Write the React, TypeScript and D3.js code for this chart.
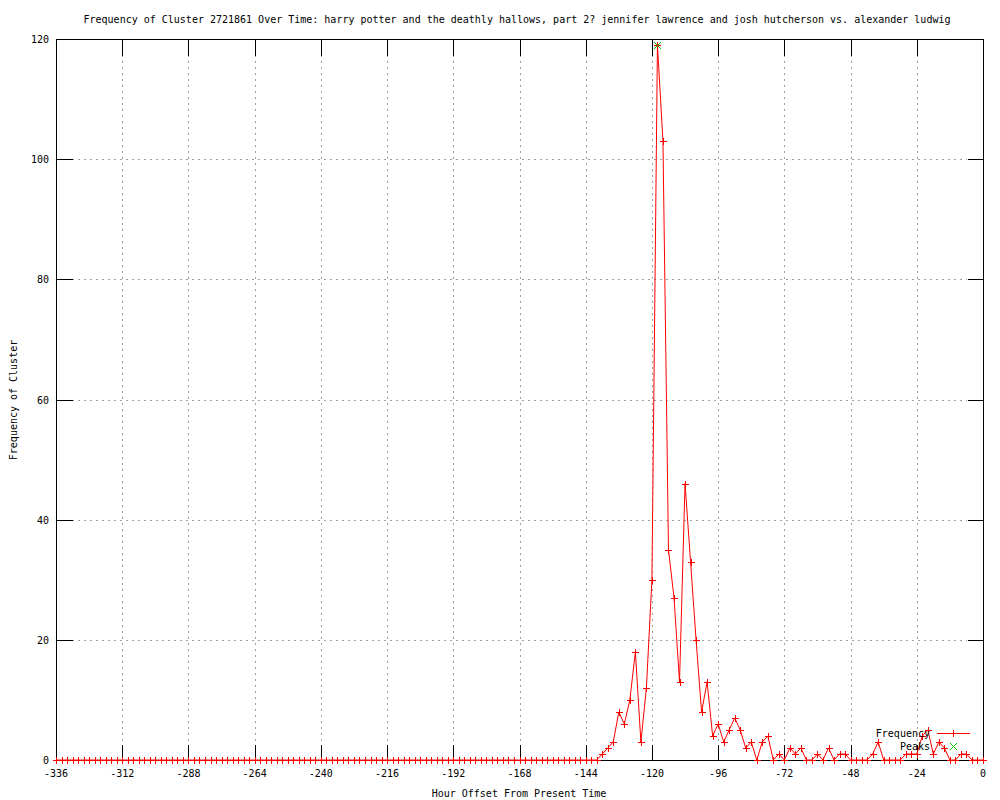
import React, { useEffect, useRef } from 'react'
import { select, scaleLinear, range, line } from 'd3'

// hours from -336 to 0, one point every 2 hours
const hours = range(-336, 1, 2)

// frequency values (98 leading zeros: -336 .. -142)
const leadingZeros = [
  0, 0, 0, 0, 0, 0, 0, 0, 0, 0, 0, 0, 0, 0, 0, 0, 0, 0, 0, 0,
  0, 0, 0, 0, 0, 0, 0, 0, 0, 0, 0, 0, 0, 0, 0, 0, 0, 0, 0, 0,
  0, 0, 0, 0, 0, 0, 0, 0, 0, 0, 0, 0, 0, 0, 0, 0, 0, 0, 0, 0,
  0, 0, 0, 0, 0, 0, 0, 0, 0, 0, 0, 0, 0, 0, 0, 0, 0, 0, 0, 0,
  0, 0, 0, 0, 0, 0, 0, 0, 0, 0, 0, 0, 0, 0, 0, 0, 0, 0,
]
// -140 .. 0
const activeValues = [
  0, 1, 2, 3, 8, 6, 10, 18, 3, 12, 30, 119, 103, 35, 27, 13, 46, 33, 20, 8,
  13, 4, 6, 3, 5, 7, 5, 2, 3, 0, 3, 4, 0, 1, 0, 2, 1, 2, 0, 0,
  1, 0, 2, 0, 1, 1, 0, 0, 0, 0, 1, 3, 0, 0, 0, 0, 1, 1, 1, 4,
  5, 1, 3, 2, 0, 0, 1, 1, 0, 0, 0,
]
const frequency = leadingZeros.concat(activeValues)

const peakHours = [-118]
const peakValues = [119]

const xTicks = [-336, -312, -288, -264, -240, -216, -192, -168, -144, -120, -96, -72, -48, -24, 0]
const yTicks = [0, 20, 40, 60, 80, 100, 120]

const title = 'Frequency of Cluster 2721861 Over Time: harry potter and the deathly hallows, part 2? jennifer lawrence and josh hutcherson vs. alexander ludwig'
const xLabel = 'Hour Offset From Present Time'
const yLabel = 'Frequency of Cluster'

const RED = '#ff0000'
const GREEN = '#00c000'

function FrequencyChart() {
  const contRef = useRef(null)

  const width = 1000, height = 800
  const left = 56, right = 983, top = 39, bottom = 760
  const font = '"DejaVu Sans Mono", "Liberation Mono", monospace'

  useEffect(() => {
    const root = select(contRef.current)
    root.selectAll('*').remove()

    const svg = root.append('svg')
      .attr('width', width)
      .attr('height', height)
      .style('position', 'absolute')
      .style('left', 0)
      .style('top', 0)
      .style('background', '#fff')

    const x = scaleLinear().domain([-336, 0]).range([left, right])
    const y = scaleLinear().domain([0, 120]).range([bottom, top])
    const px = (v) => Math.round(x(v)) + 0.5
    const py = (v) => Math.round(y(v)) + 0.5

    const tickLen = 16

    // grid lines
    const grid = svg.append('g')
      .attr('stroke', '#a0a0a0')
      .attr('stroke-dasharray', '2,4')
      .attr('shape-rendering', 'crispEdges')
    grid.selectAll('line.gx')
      .data(xTicks.slice(1, -1))
      .join('line')
      .attr('class', 'gx')
      .attr('x1', d => px(d)).attr('x2', d => px(d))
      .attr('y1', top + tickLen).attr('y2', bottom - tickLen)
    grid.selectAll('line.gy')
      .data(yTicks.slice(1, -1))
      .join('line')
      .attr('class', 'gy')
      .attr('x1', left + tickLen).attr('x2', right - tickLen)
      .attr('y1', d => py(d)).attr('y2', d => py(d))

    // ticks (mirrored on all sides)
    const ticks = svg.append('g')
      .attr('stroke', '#000')
      .attr('shape-rendering', 'crispEdges')
    xTicks.forEach(t => {
      ticks.append('line').attr('x1', px(t)).attr('x2', px(t)).attr('y1', py(0)).attr('y2', py(0) - tickLen)
      ticks.append('line').attr('x1', px(t)).attr('x2', px(t)).attr('y1', py(120)).attr('y2', py(120) + tickLen)
    })
    yTicks.forEach(t => {
      ticks.append('line').attr('x1', px(-336)).attr('x2', px(-336) + tickLen).attr('y1', py(t)).attr('y2', py(t))
      ticks.append('line').attr('x1', px(0)).attr('x2', px(0) - tickLen).attr('y1', py(t)).attr('y2', py(t))
    })

    // frame
    svg.append('rect')
      .attr('x', px(-336)).attr('y', py(120))
      .attr('width', px(0) - px(-336)).attr('height', py(0) - py(120))
      .attr('fill', 'none').attr('stroke', '#000')
      .attr('shape-rendering', 'crispEdges')

    // tick labels
    svg.append('g')
      .selectAll('text')
      .data(xTicks)
      .join('text')
      .attr('x', d => x(d))
      .attr('y', bottom + 17)
      .attr('text-anchor', 'middle')
      .style('font-family', font).style('font-size', '10px')
      .text(d => d)
    svg.append('g')
      .selectAll('text')
      .data(yTicks)
      .join('text')
      .attr('x', 49)
      .attr('y', d => y(d) + 4)
      .attr('text-anchor', 'end')
      .style('font-family', font).style('font-size', '10px')
      .text(d => d)

    // titles
    svg.append('text')
      .attr('x', 517).attr('y', 23)
      .attr('text-anchor', 'middle')
      .style('font-family', font).style('font-size', '10px')
      .text(title)
    svg.append('text')
      .attr('x', 519).attr('y', 797)
      .attr('text-anchor', 'middle')
      .style('font-family', font).style('font-size', '10px')
      .text(xLabel)
    svg.append('text')
      .attr('transform', `translate(17, 400) rotate(-90)`)
      .attr('text-anchor', 'middle')
      .style('font-family', font).style('font-size', '10px')
      .text(yLabel)

    // frequency line
    const points = hours.map((h, i) => ({ h, v: frequency[i] }))
    const path = line().x(d => x(d.h)).y(d => y(d.v))
    svg.append('path')
      .datum(points)
      .attr('d', path)
      .style('fill', 'none')
      .style('stroke', RED)
      .style('stroke-width', 1)

    const m = 3.5
    const plus = (cx, cy) => `M${cx - m},${cy}H${cx + m}M${cx},${cy - m}V${cy + m}`
    const cross = (cx, cy) => `M${cx - m},${cy - m}L${cx + m},${cy + m}M${cx - m},${cy + m}L${cx + m},${cy - m}`

    svg.append('g')
      .selectAll('path')
      .data(points)
      .join('path')
      .attr('d', d => plus(Math.round(x(d.h)) + 0.5, Math.round(y(d.v)) + 0.5))
      .style('stroke', RED)
      .style('fill', 'none')

    // peaks
    svg.append('g')
      .selectAll('path')
      .data(peakHours.map((h, i) => ({ h, v: peakValues[i] })))
      .join('path')
      .attr('d', d => cross(Math.round(x(d.h)) + 0.5, Math.round(y(d.v)) + 0.5))
      .style('stroke', GREEN)
      .style('fill', 'none')

    // legend
    const lg = svg.append('g')
    lg.append('text')
      .attr('x', 930).attr('y', 737)
      .attr('text-anchor', 'end')
      .style('font-family', font).style('font-size', '10px')
      .text('Frequency')
    lg.append('path')
      .attr('d', `M937,733.5H970`)
      .style('stroke', RED)
      .style('fill', 'none')
    lg.append('path')
      .attr('d', plus(953.5, 733.5))
      .style('stroke', RED)
      .style('fill', 'none')
    lg.append('text')
      .attr('x', 930).attr('y', 750)
      .attr('text-anchor', 'end')
      .style('font-family', font).style('font-size', '10px')
      .text('Peaks')
    lg.append('path')
      .attr('d', cross(953.5, 746.5))
      .style('stroke', GREEN)
      .style('fill', 'none')
  }, [])

  return (
    <div ref={contRef}></div>
  )
}

export default function App() {
  return <FrequencyChart />
}
